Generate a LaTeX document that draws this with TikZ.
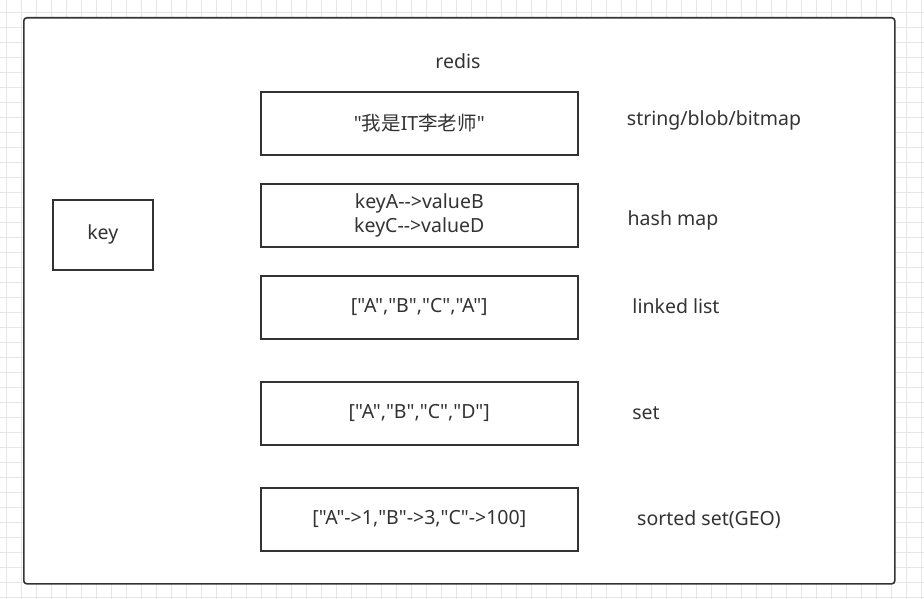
\documentclass[tikz,border=0pt]{standalone}
\usepackage{fontspec}
\setmainfont{Noto Sans}[Ligatures=TeXOff]
\newfontfamily\cjk{Noto Sans CJK SC}[Ligatures=TeXOff]
\definecolor{ink}{HTML}{333333}
\definecolor{gridc}{HTML}{E6E6E6}
\tikzset{
  box/.style={draw=ink, line width=1.6pt, minimum width=317pt, minimum height=63pt, anchor=north west, inner sep=0pt, text=ink, font=\fontsize{19.5}{24.5}\selectfont, align=center},
  lbl/.style={text=ink, font=\fontsize{19.5}{22}\selectfont},
}
\begin{document}
\begin{tikzpicture}[x=1pt,y=-1pt]
\useasboundingbox (0,0) rectangle (924,599);
\fill[white] (0,0) rectangle (924,599);
\foreach \i in {0,...,61} {\draw[gridc, line width=0.8pt] ({6.7+15*\i},0) -- ({6.7+15*\i},599);}
\foreach \j in {0,...,39} {\draw[gridc, line width=0.8pt] (0,{12.7+15*\j}) -- (924,{12.7+15*\j});}
\node[draw=ink, line width=1.6pt, rounded corners=3pt, fill=white, minimum width=871pt, minimum height=566pt, anchor=north west, inner sep=0pt] (outer) at (23,17) {};
\node[lbl] (redis) at (458,61) {redis};
\node[box] (s) at (260,91) {"{\cjk 我是}IT{\cjk 李老师}"};
\node[box] (h) at (260,183) {keyA-->valueB\\keyC-->valueD};
\node[box] (l) at (260,275) {["A","B","C","A"]};
\node[box] (st) at (260,381) {["A","B","C","D"]};
\node[box] (z) at (260,487) {["A"->1,"B"->3,"C"->100]};
\node[box, minimum width=100pt, minimum height=70pt] (key) at (52,199) {key};
\node[lbl] (ls) at (714,120) {string/blob/bitmap};
\node[lbl] (lh) at (673,220) {hash map};
\node[lbl] (ll) at (676,306) {linked list};
\node[lbl] (lst) at (646,413) {set};
\node[lbl] (lz) at (709,520) {sorted set(GEO)};
\end{tikzpicture}
\end{document}
